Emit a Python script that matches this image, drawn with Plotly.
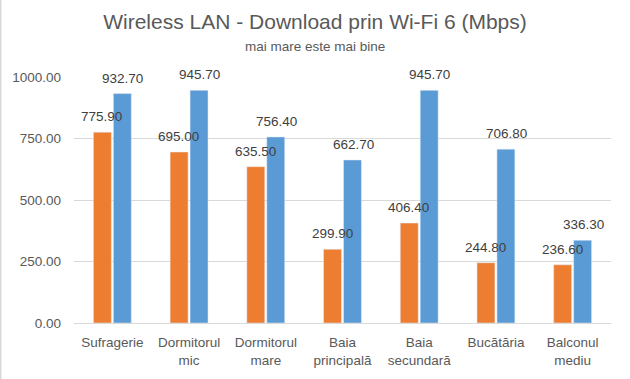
import plotly.graph_objects as go

categories = ["Sufragerie", "Dormitorul<br>mic", "Dormitorul<br>mare", "Baia<br>principală",
              "Baia<br>secundară", "Bucătăria", "Balconul<br>mediu"]
orange_values = [775.90, 695.00, 635.50, 299.90, 406.40, 244.80, 236.60]
blue_values = [932.70, 945.70, 756.40, 662.70, 945.70, 706.80, 336.30]
tick_values = [0, 250, 500, 750, 1000]
tick_labels = ["0.00", "250.00", "500.00", "750.00", "1000.00"]

FONT = "Liberation Sans, Arial, sans-serif"
W, H = 630, 379
L, R, T, B = 74, 19, 77, 56
PW, PH = W - L - R, H - T - B

fig = go.Figure()
fig.add_trace(go.Bar(x=categories, y=orange_values, marker_color="#ED7D31", showlegend=False))
fig.add_trace(go.Bar(x=categories, y=blue_values, marker_color="#5B9BD5", showlegend=False))

for vals, shift in ((orange_values, -10.5), (blue_values, 10.5)):
    for c, v in zip(categories, vals):
        fig.add_annotation(x=c, y=v, text=f"{v:.2f}", showarrow=False,
                           xshift=shift, yshift=15.5, yanchor="middle", xanchor="center",
                           font=dict(family=FONT, size=13.5, color="#404040"))

fig.update_layout(
    width=W, height=H,
    margin=dict(l=L, r=R, t=T, b=B),
    paper_bgcolor="white", plot_bgcolor="white",
    barmode="group", bargap=0.48, bargroupgap=0.1,
    font=dict(family=FONT, size=13.5, color="#595959"),
    title=dict(text="Wireless LAN - Download prin Wi-Fi 6 (Mbps)", x=0.5, xanchor="center",
               y=1 - 22/H, yanchor="middle", font=dict(family=FONT, size=21, color="#595959")),
)
fig.add_annotation(text="mai mare este mai bine", xref="paper", yref="paper",
                   x=(315-L)/PW, y=1 + (T-47)/PH, xanchor="center", yanchor="middle",
                   showarrow=False, font=dict(family=FONT, size=13.5, color="#595959"))
fig.update_yaxes(range=[0, 1000], tickvals=tick_values, ticktext=tick_labels,
                 showgrid=True, gridcolor="#D9D9D9", gridwidth=1, zeroline=False,
                 showline=False, ticks="", ticklabelstandoff=12,
                 tickfont=dict(family=FONT, size=13.5, color="#595959"))
fig.update_xaxes(showline=True, linecolor="#D9D9D9", linewidth=1, ticks="",
                 tickfont=dict(family=FONT, size=13.5, color="#595959"), ticklabelstandoff=7)
fig.add_shape(type="line", xref="paper", yref="paper", x0=-(L-0.75)/PW, x1=-(L-0.75)/PW,
              y0=-B/PH, y1=1 + T/PH, line=dict(color="#D9D9D9", width=1.5))

fig.write_html("out.html", config={"displayModeBar": False},
               post_script="document.body.style.margin='0';document.body.style.overflow='hidden';")
